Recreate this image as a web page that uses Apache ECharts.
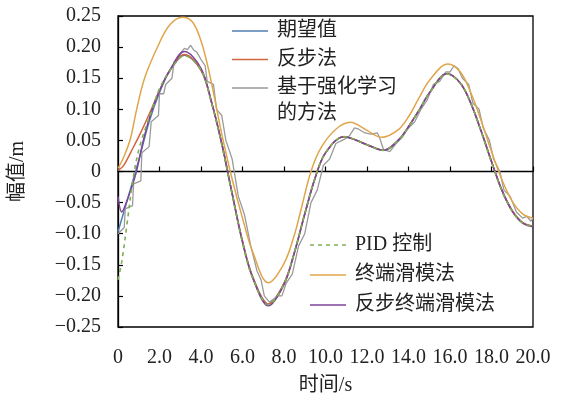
<!DOCTYPE html>
<html><head><meta charset="utf-8">
<script src="https://cdn.jsdelivr.net/npm/echarts@6/dist/echarts.min.js"></script>
<style>html,body{margin:0;padding:0;background:#fff}#c{width:570px;height:401px}</style>
</head><body><div id="c"></div>
<script>
// ---- data ----
var seriesNames = ['期望值','反步法','基于强化学习','PID 控制','终端滑模法','反步终端滑模法'];
var xTicks = [0,2,4,6,8,10,12,14,16,18,20];
var yTicks = [-0.25,-0.2,-0.15,-0.1,-0.05,0,0.05,0.1,0.15,0.2,0.25];

var desT = [0,0.5,1,1.5,2,2.5,3.2,4,4.5,5,5.5,6,6.5,7.25,8,8.5,9,9.5,10,10.9,12,12.8,13.5,14,14.5,15,15.85,16.5,17,17.5,18,18.5,19,19.5,20];
var desV = [-0.097,-0.04,0.018,0.08,0.127,0.162,0.187,0.163,0.112,0.045,-0.035,-0.112,-0.17,-0.213,-0.18,-0.13,-0.068,-0.01,0.03,0.056,0.043,0.034,0.05,0.072,0.098,0.126,0.157,0.142,0.11,0.065,0.016,-0.03,-0.063,-0.082,-0.088];

var bsT = [0,0.26,0.74,1.06,1.5,2,2.5,3.2,4,4.5,5,5.5,6,6.5,7.25,8,8.5,9,9.5,10,10.9,12,12.8,13.5,14,14.5,15,15.85,16.5,17,17.5,18,18.5,19,19.5,20];
var bsV = [0.002,0.009,0.039,0.06,0.092,0.13,0.163,0.188,0.163,0.112,0.045,-0.035,-0.112,-0.17,-0.213,-0.18,-0.13,-0.068,-0.01,0.03,0.056,0.043,0.034,0.05,0.072,0.098,0.126,0.157,0.142,0.11,0.065,0.016,-0.03,-0.063,-0.082,-0.088];

var rlT = [0,0.3,0.35,0.7,0.75,1.1,1.15,1.5,1.6,1.95,2.0,2.2,2.3,2.6,2.7,3.0,3.2,3.35,3.5,3.65,3.8,4.0,4.2,4.3,4.6,4.75,5.0,5.2,5.5,5.8,6.1,6.4,6.7,6.9,7.05,7.3,7.5,7.7,7.9,8.1,8.4,8.7,9.0,9.3,9.6,9.9,10.2,10.5,10.8,11.1,11.4,11.6,11.9,12.2,12.5,12.6,12.8,13.1,13.4,13.7,14.0,14.3,14.6,14.9,15.2,15.5,15.8,16.0,16.2,16.4,16.6,16.9,17.1,17.4,17.6,17.9,18.1,18.4,18.6,18.9,19.2,19.5,19.7,19.9,20];
var rlV = [-0.1,-0.09,-0.06,-0.055,-0.02,-0.015,0.03,0.04,0.08,0.09,0.125,0.125,0.14,0.15,0.175,0.19,0.198,0.196,0.203,0.195,0.192,0.18,0.17,0.145,0.14,0.1,0.09,0.05,0.02,-0.04,-0.07,-0.12,-0.16,-0.175,-0.2,-0.21,-0.205,-0.2,-0.2,-0.18,-0.165,-0.12,-0.1,-0.05,-0.03,0.01,0.02,0.045,0.05,0.055,0.07,0.068,0.062,0.06,0.062,0.055,0.035,0.032,0.045,0.055,0.07,0.08,0.1,0.115,0.14,0.145,0.16,0.16,0.17,0.165,0.15,0.14,0.11,0.1,0.07,0.05,0.02,0.0,-0.03,-0.04,-0.065,-0.075,-0.072,-0.08,-0.075];

var pidT = [0,0.18,0.42,0.74,1.06,1.67,2.0,2.5,3.2,4,4.5,5,5.5,6,6.5,7.25,8,8.5,9,9.5,10,10.9,12,12.8,13.5,14,14.5,15,15.85,16.5,17,17.5,18,18.5,19,19.5,20];
var pidV = [-0.174,-0.145,-0.088,-0.009,0.042,0.102,0.133,0.162,0.186,0.163,0.111,0.043,-0.037,-0.114,-0.172,-0.214,-0.181,-0.13,-0.068,-0.01,0.03,0.056,0.043,0.034,0.05,0.072,0.098,0.126,0.157,0.142,0.11,0.064,0.015,-0.031,-0.064,-0.083,-0.089];

var tsmT = [0,0.3,0.6,0.9,1.3,2.0,2.5,3.1,3.6,4.03,4.43,5.04,5.5,6,6.5,7.24,8,8.5,8.8,9.3,9.8,10.5,11.2,12,12.7,13.5,14,14.5,15,15.9,16.5,17,17.5,18,18.5,19,19.5,20];
var tsmV = [0.005,0.025,0.053,0.1,0.152,0.207,0.236,0.248,0.24,0.207,0.154,0.054,-0.012,-0.075,-0.13,-0.179,-0.148,-0.102,-0.064,0.0,0.039,0.068,0.079,0.066,0.055,0.067,0.088,0.118,0.146,0.173,0.16,0.127,0.082,0.032,-0.013,-0.048,-0.068,-0.075];

var btsT = [0,0.18,0.4,0.85,1.22,1.6,2.0,2.5,3.2,4,4.5,5,5.5,6,6.5,7.25,8,8.5,9,9.5,10,10.9,12,12.8,13.5,14,14.5,15,15.85,16.5,17,17.5,18,18.5,19,19.5,20];
var btsV = [-0.04,-0.065,-0.05,-0.005,0.05,0.095,0.13,0.163,0.193,0.166,0.113,0.045,-0.036,-0.114,-0.172,-0.216,-0.182,-0.131,-0.069,-0.011,0.03,0.056,0.043,0.034,0.05,0.072,0.098,0.126,0.157,0.142,0.11,0.065,0.016,-0.03,-0.064,-0.083,-0.089];

function pairs(t, v){ return t.map(function(x,i){ return [x, v[i]]; }); }

var colors = ['#4f7db3','#d0673f','#9a9a9a','#7fae52','#e0a54a','#7d4597'];
var NUMFONT = 'Liberation Serif';
var FONT = 'Liberation Serif, Noto Sans CJK SC';
var TXT = '#222';
var LINEICON = 'path://M0,0L36,0L36,1.5L0,1.5Z';
var DASHICON = 'path://M0,0L4,0L4,1.5L0,1.5Z M8,0L12,0L12,1.5L8,1.5Z M16,0L20,0L20,1.5L16,1.5Z M24,0L28,0L28,1.5L24,1.5Z M32,0L36,0L36,1.5L32,1.5Z';

var chart = echarts.init(document.getElementById('c'), null, {renderer:'canvas'});
function mk(i, t, v, extra){
  var s = {name: seriesNames[i], type:'line', data: pairs(t,v), showSymbol:false, symbol:'none',
    smooth: 0.35, lineStyle:{color: colors[i], width:1.5}, itemStyle:{color: colors[i]}, z: 2};
  for (var k in extra) s[k] = extra[k];
  return s;
}
var option = {
  animation:false,
  backgroundColor:'#fff',
  grid:{left:118, top:16, right:37, bottom:68, show:true, borderColor:'#000', borderWidth:1.3, backgroundColor:'transparent'},
  xAxis:{type:'value', min:0, max:20, interval:2,
    name:'时间/s', nameLocation:'middle', nameGap:49,
    nameTextStyle:{fontFamily:FONT, fontSize:20, color:TXT},
    axisLine:{show:true, lineStyle:{color:'#000', width:1.3}},
    axisTick:{show:true, inside:true, length:5, lineStyle:{color:'#000', width:1.2}},
    splitLine:{show:false},
    axisLabel:{fontFamily:NUMFONT, fontSize:20, color:TXT, margin:21,
      formatter:function(v){ return Math.abs(v)<1e-9 ? '0' : v.toFixed(1); }}
  },
  yAxis:{type:'value', min:-0.25, max:0.25, interval:0.05,
    name:'幅值/m', nameLocation:'middle', nameGap:90, nameRotate:90,
    nameTextStyle:{fontFamily:FONT, fontSize:20, color:TXT},
    axisLine:{show:true, lineStyle:{color:'#000', width:1.3}},
    axisTick:{show:true, inside:true, length:5, lineStyle:{color:'#000', width:1.2}},
    splitLine:{show:false},
    axisLabel:{fontFamily:NUMFONT, fontSize:20, color:TXT, margin:17,
      formatter:function(v){ if (Math.abs(v)<1e-9) return '0'; var s=Math.abs(v).toFixed(2); return (v<0?'\u2212':'')+s; }}
  },
  legend:[
    {data:[seriesNames[0],seriesNames[1],seriesNames[2]], orient:'vertical', left:232, top:21, padding:0,
     itemWidth:36, itemHeight:14, itemGap:8.5, icon:LINEICON,
     textStyle:{fontFamily:FONT, fontSize:20, color:TXT, padding:[0,0,0,4]}},
    {data:[{name:seriesNames[3], icon:DASHICON},{name:seriesNames[4], icon:LINEICON},{name:seriesNames[5], icon:LINEICON}],
     orient:'vertical', left:310, top:235, padding:0,
     itemWidth:36, itemHeight:14, itemGap:10,
     textStyle:{fontFamily:FONT, fontSize:20, color:TXT, padding:[0,0,0,4]}}
  ],
  graphic:[{type:'text', left:277, top:104, style:{text:'的方法', fontFamily:FONT, fontSize:20, fill:TXT}}],
  series:[
    mk(0, desT, desV, {z:2}),
    mk(1, bsT, bsV, {z:3}),
    mk(2, rlT, rlV, {smooth:false, z:4, lineStyle:{color:colors[2], width:1.3}}),
    mk(3, pidT, pidV, {z:7, lineStyle:{color:colors[3], width:1.6, type:[4,4]}}),
    mk(4, tsmT, tsmV, {z:5}),
    mk(5, btsT, btsV, {z:6})
  ]
};
chart.setOption(option);
</script></body></html>
